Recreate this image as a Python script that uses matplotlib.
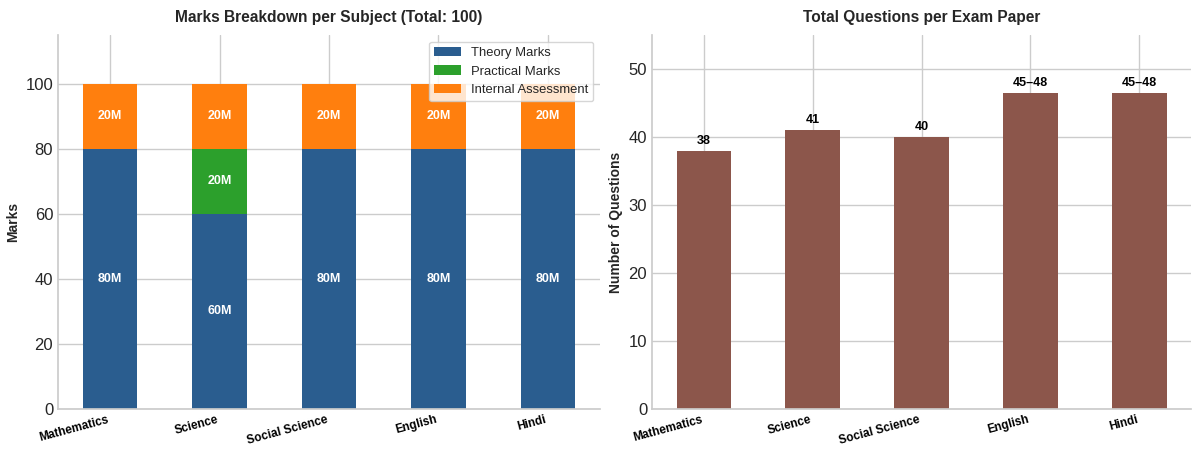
import matplotlib.pyplot as plt
import seaborn as sns
import numpy as np

subjects = ["Mathematics", "Science", "Social Science", "English", "Hindi"]
theory = [80, 60, 80, 80, 80]
practical = [0, 20, 0, 0, 0]
internal = [20, 20, 20, 20, 20]
questions = [38, 41, 40, 46.5, 46.5]
question_labels = ["38", "41", "40", "45\u201348", "45\u201348"]

sns.set_theme(style="whitegrid")
plt.rcParams['font.family'] = ['Liberation Sans', 'DejaVu Sans']

fig, (ax1, ax2) = plt.subplots(1, 2, figsize=(12, 4.55), dpi=100)
x = np.arange(len(subjects))
w = 0.5

b1 = ax1.bar(x, theory, w, color="#2a5d8f", label="Theory Marks", linewidth=0)
b2 = ax1.bar(x, practical, w, bottom=theory, color="#2ca02c", label="Practical Marks", linewidth=0)
bottom2 = [t + p for t, p in zip(theory, practical)]
b3 = ax1.bar(x, internal, w, bottom=bottom2, color="#ff7f0e", label="Internal Assessment", linewidth=0)

for bars, vals in ((b1, theory), (b2, practical), (b3, internal)):
    for rect, v in zip(bars, vals):
        if v > 0:
            ax1.text(rect.get_x() + rect.get_width() / 2, rect.get_y() + v / 2, f"{v}M",
                     ha="center", va="center", color="white", fontsize=9, fontweight="bold")

ax1.set_title("Marks Breakdown per Subject (Total: 100)", fontsize=11.2, fontweight="bold", pad=9.5)
ax1.set_ylabel("Marks", fontsize=10, fontweight="bold")
ax1.set_ylim(0, 115)
ax1.set_xticks(x)
ax1.set_xticklabels(subjects, rotation=15, ha="right", fontsize=8.5, fontweight="bold", color="black")
ax1.tick_params(axis="y", labelsize=12)
ax1.legend(loc="upper right", fontsize=9.4)

b4 = ax2.bar(x, questions, w, color="#8c564b", linewidth=0)
for rect, lab in zip(b4, question_labels):
    ax2.text(rect.get_x() + rect.get_width() / 2, rect.get_height() + 0.6, lab,
             ha="center", va="bottom", fontsize=9, fontweight="bold", color="black")
ax2.set_title("Total Questions per Exam Paper", fontsize=11.2, fontweight="bold", pad=9.5)
ax2.set_ylabel("Number of Questions", fontsize=10, fontweight="bold")
ax2.set_ylim(0, 55)
ax2.set_xticks(x)
ax2.set_xticklabels(subjects, rotation=15, ha="right", fontsize=8.5, fontweight="bold", color="black")
ax2.tick_params(axis="y", labelsize=12)

for ax in (ax1, ax2):
    sns.despine(ax=ax)
    ax.spines["left"].set_color("#cccccc")
    ax.spines["bottom"].set_color("#cccccc")
    ax.tick_params(axis="both", length=0, pad=3.5)

ax1.set_position([58 / 1200, 1 - 409 / 455, 542 / 1200, 374 / 455])
ax2.set_position([652 / 1200, 1 - 409 / 455, 539 / 1200, 374 / 455])

plt.savefig("out.png")
